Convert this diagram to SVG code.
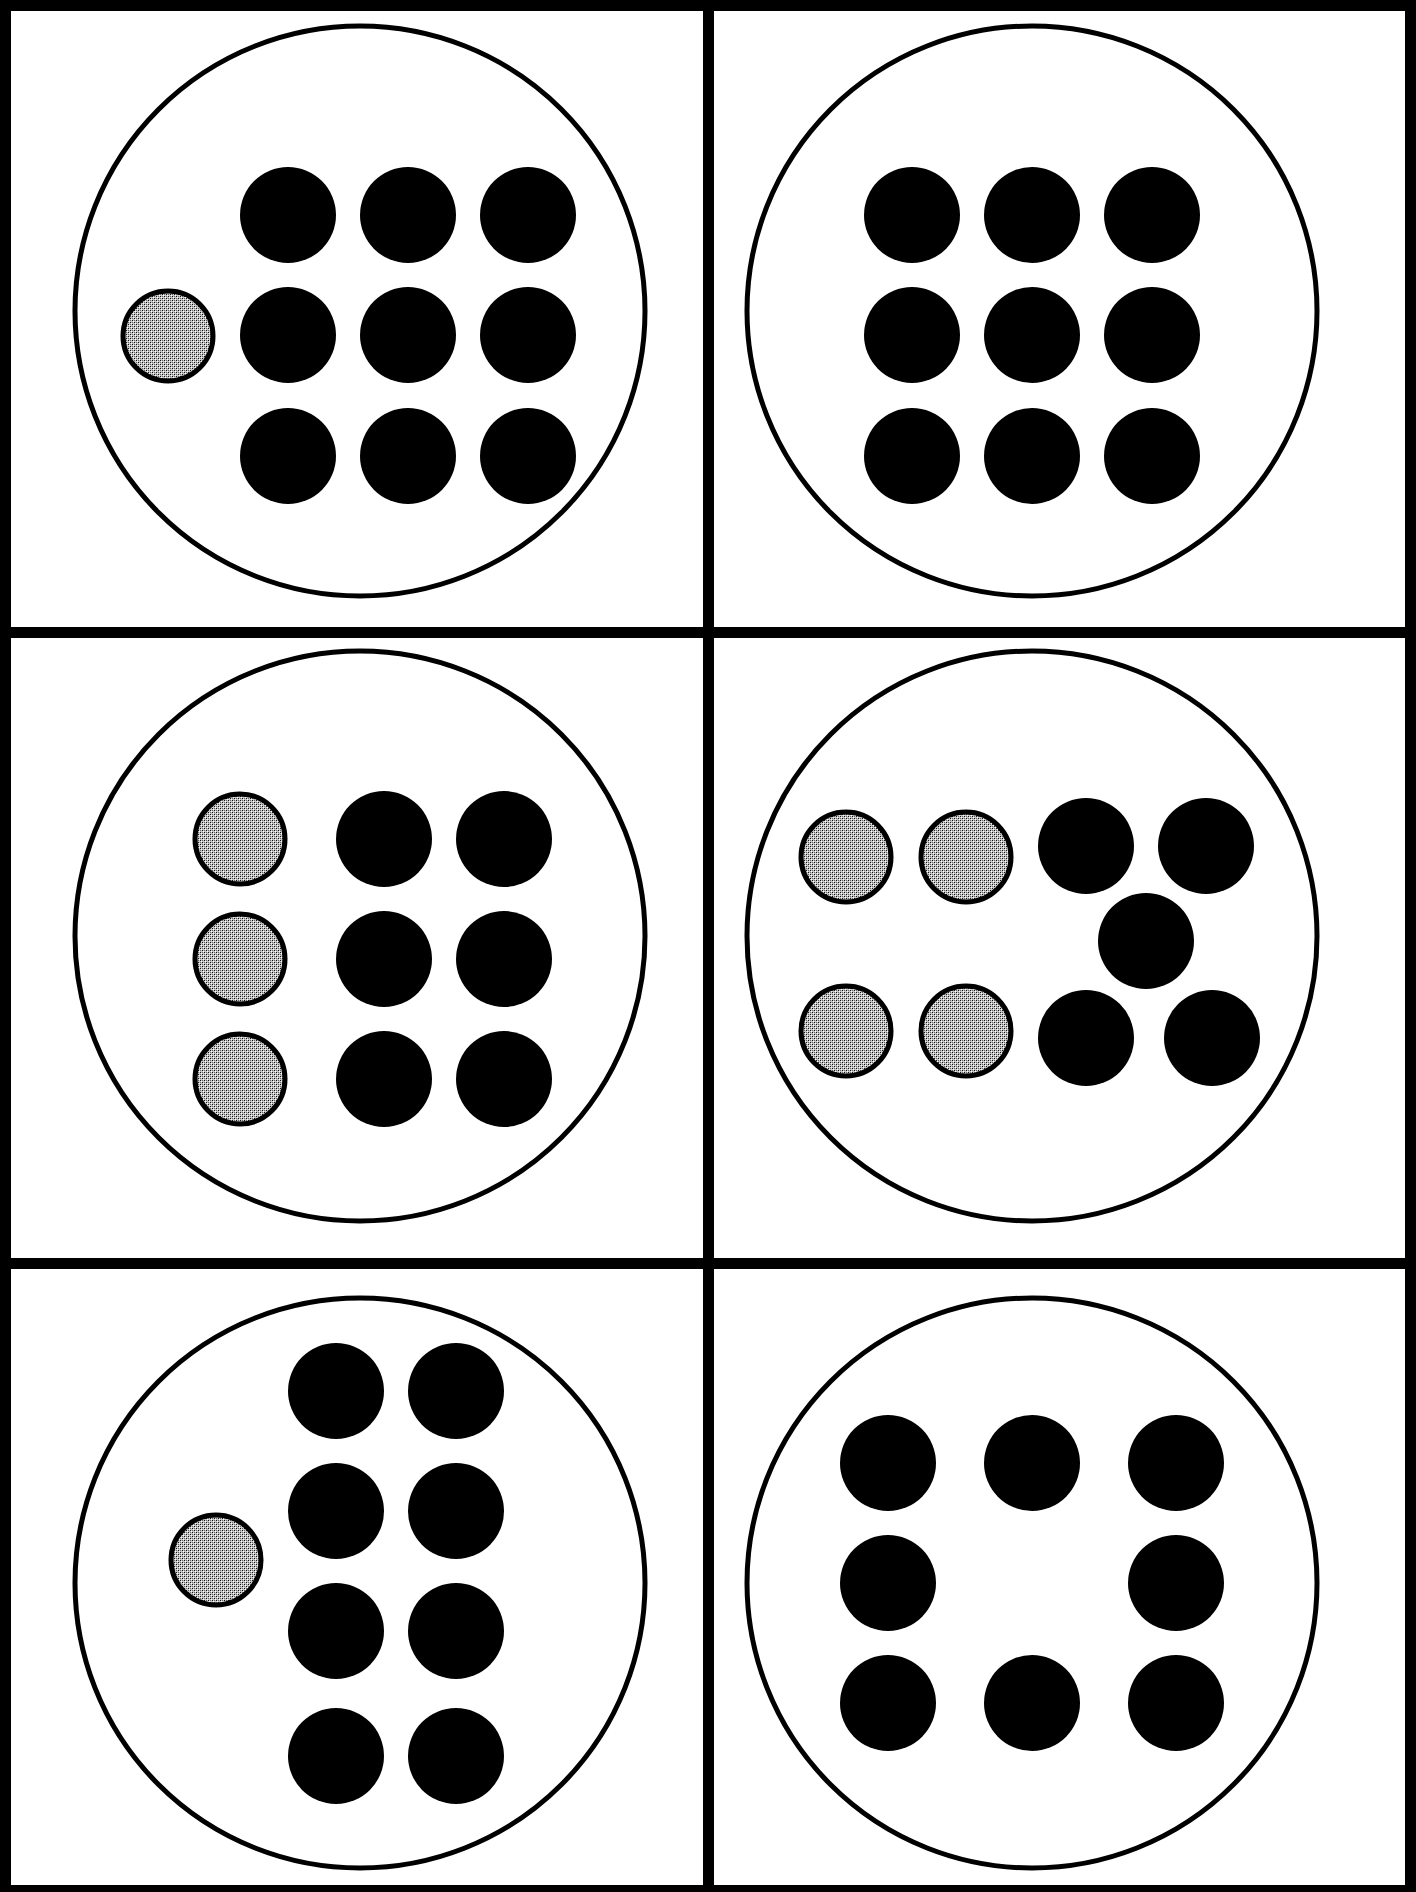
<svg xmlns="http://www.w3.org/2000/svg" width="1416" height="1892" viewBox="0 0 1416 1892">
  <style>
    .frame { fill: #000; }
    .ring { fill: #fff; stroke: #000; stroke-width: 5; }
    .dot { fill: #000; }
    .gray { fill: url(#hatch); stroke: #000; stroke-width: 5; }
  </style>
  <defs>
    <pattern id="hatch" x="0" y="0" width="4" height="4" patternUnits="userSpaceOnUse">
      <rect width="4" height="4" fill="#c8c8c8"/>
      <rect x="0" y="0" width="1" height="1" fill="#111"/>
      <rect x="2" y="2" width="1" height="1" fill="#111"/>
      <rect x="2" y="0" width="1" height="1" fill="#666"/>
      <rect x="0" y="2" width="1" height="1" fill="#666"/>
      <rect x="1" y="1" width="1" height="1" fill="#fff"/>
      <rect x="3" y="3" width="1" height="1" fill="#fff"/>
    </pattern>
  </defs>
  <rect width="1416" height="1892" fill="#fff"/>

  <g id="grid">
    <rect class="frame" x="0" y="0" width="11" height="1892"/>
    <rect class="frame" x="1405" y="0" width="11" height="1892"/>
    <rect class="frame" x="0" y="0" width="1416" height="11"/>
    <rect class="frame" x="0" y="1885" width="1416" height="7"/>
    <rect class="frame" x="703" y="0" width="11" height="1892"/>
    <rect class="frame" x="0" y="627" width="1416" height="11"/>
    <rect class="frame" x="0" y="1258" width="1416" height="11"/>
  </g>

  <g id="connectors"></g>

  <g id="cell-1">
    <circle class="ring" cx="360" cy="311" r="285"/>
    <circle class="gray" cx="168" cy="336" r="45"/>
    <circle class="dot" cx="288" cy="215" r="48"/>
    <circle class="dot" cx="408" cy="215" r="48"/>
    <circle class="dot" cx="528" cy="215" r="48"/>
    <circle class="dot" cx="288" cy="335" r="48"/>
    <circle class="dot" cx="408" cy="335" r="48"/>
    <circle class="dot" cx="528" cy="335" r="48"/>
    <circle class="dot" cx="288" cy="456" r="48"/>
    <circle class="dot" cx="408" cy="456" r="48"/>
    <circle class="dot" cx="528" cy="456" r="48"/>
  </g>

  <g id="cell-2">
    <circle class="ring" cx="1032" cy="311" r="285"/>
    <circle class="dot" cx="912" cy="215" r="48"/>
    <circle class="dot" cx="1032" cy="215" r="48"/>
    <circle class="dot" cx="1152" cy="215" r="48"/>
    <circle class="dot" cx="912" cy="335" r="48"/>
    <circle class="dot" cx="1032" cy="335" r="48"/>
    <circle class="dot" cx="1152" cy="335" r="48"/>
    <circle class="dot" cx="912" cy="456" r="48"/>
    <circle class="dot" cx="1032" cy="456" r="48"/>
    <circle class="dot" cx="1152" cy="456" r="48"/>
  </g>

  <g id="cell-3">
    <circle class="ring" cx="360" cy="936" r="285"/>
    <circle class="gray" cx="240" cy="839" r="45"/>
    <circle class="gray" cx="240" cy="959" r="45"/>
    <circle class="gray" cx="240" cy="1079" r="45"/>
    <circle class="dot" cx="384" cy="839" r="48"/>
    <circle class="dot" cx="504" cy="839" r="48"/>
    <circle class="dot" cx="384" cy="959" r="48"/>
    <circle class="dot" cx="504" cy="959" r="48"/>
    <circle class="dot" cx="384" cy="1079" r="48"/>
    <circle class="dot" cx="504" cy="1079" r="48"/>
  </g>

  <g id="cell-4">
    <circle class="ring" cx="1032" cy="936" r="285"/>
    <circle class="gray" cx="846" cy="857" r="45"/>
    <circle class="gray" cx="966" cy="857" r="45"/>
    <circle class="gray" cx="846" cy="1031" r="45"/>
    <circle class="gray" cx="966" cy="1031" r="45"/>
    <circle class="dot" cx="1086" cy="846" r="48"/>
    <circle class="dot" cx="1206" cy="846" r="48"/>
    <circle class="dot" cx="1146" cy="941" r="48"/>
    <circle class="dot" cx="1086" cy="1038" r="48"/>
    <circle class="dot" cx="1212" cy="1038" r="48"/>
  </g>

  <g id="cell-5">
    <circle class="ring" cx="360" cy="1583" r="285"/>
    <circle class="gray" cx="216" cy="1560" r="45"/>
    <circle class="dot" cx="336" cy="1391" r="48"/>
    <circle class="dot" cx="456" cy="1391" r="48"/>
    <circle class="dot" cx="336" cy="1511" r="48"/>
    <circle class="dot" cx="456" cy="1511" r="48"/>
    <circle class="dot" cx="336" cy="1631" r="48"/>
    <circle class="dot" cx="456" cy="1631" r="48"/>
    <circle class="dot" cx="336" cy="1756" r="48"/>
    <circle class="dot" cx="456" cy="1756" r="48"/>
  </g>

  <g id="cell-6">
    <circle class="ring" cx="1032" cy="1583" r="285"/>
    <circle class="dot" cx="888" cy="1463" r="48"/>
    <circle class="dot" cx="1032" cy="1463" r="48"/>
    <circle class="dot" cx="1176" cy="1463" r="48"/>
    <circle class="dot" cx="888" cy="1583" r="48"/>
    <circle class="dot" cx="1176" cy="1583" r="48"/>
    <circle class="dot" cx="888" cy="1703" r="48"/>
    <circle class="dot" cx="1032" cy="1703" r="48"/>
    <circle class="dot" cx="1176" cy="1703" r="48"/>
  </g>
</svg>
